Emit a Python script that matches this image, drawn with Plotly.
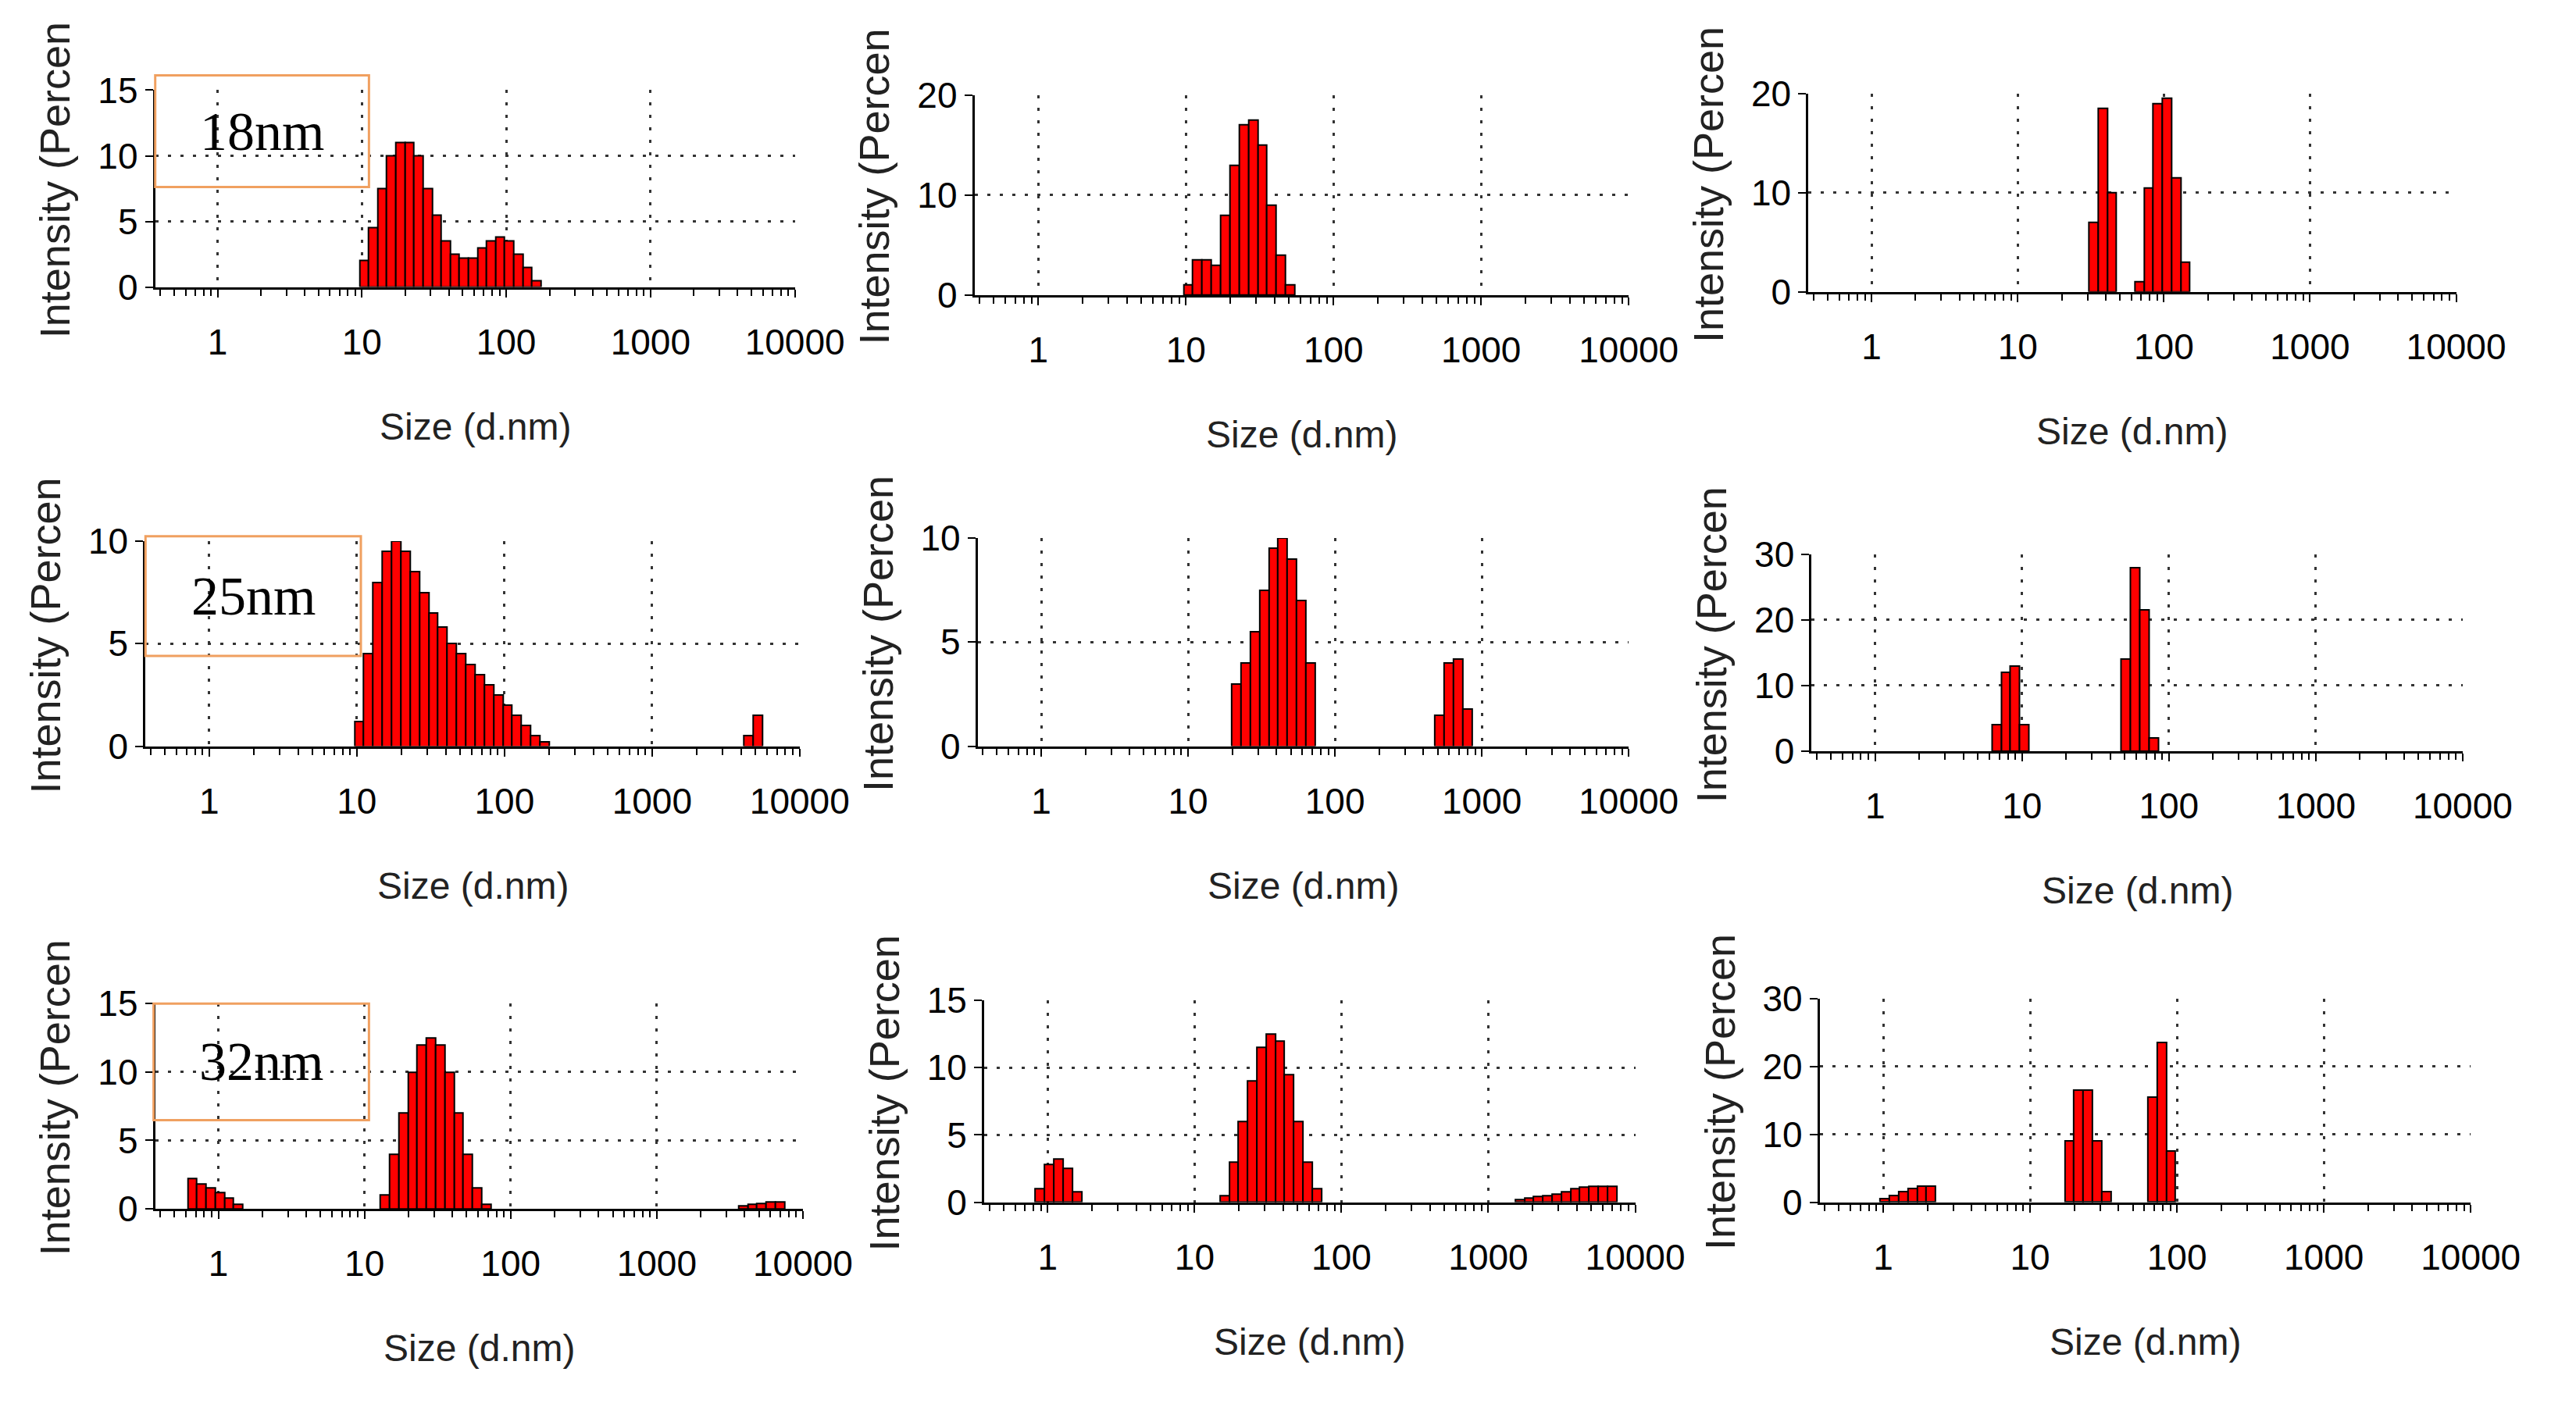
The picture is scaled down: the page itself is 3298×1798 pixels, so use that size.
import numpy as np
import plotly.graph_objects as go

# Zetasizer-style log bins: 70 bins from 0.4 to 10000 nm
BIN_START = 0.4
BIN_STEP = np.log10(10000 / 0.4) / 70

# (start bin index, intensity values) for each peak in each panel
panel1 = [(22, [2, 4.5, 7.5, 10, 11, 11, 10, 7.5, 5.5, 3.5, 2.5, 2.2, 2.2, 3, 3.5, 3.8, 3.5, 2.5, 1.5, 0.5])]
panel2 = [(22, [1, 3.5, 3.5, 3, 8, 13, 17, 17.5, 15, 9, 4, 1])]
panel3 = [(30, [7, 18.5, 10]), (35, [1, 10.5, 19, 19.5, 11.5, 3])]
panel4 = [(22, [1.2, 4.5, 8, 9.5, 10, 9.5, 8.5, 7.5, 6.5, 5.8, 5, 4.5, 4, 3.5, 3, 2.5, 2, 1.5, 1, 0.5, 0.2]),
          (64, [0.5, 1.5])]
panel5 = [(27, [3, 4, 5.5, 7.5, 9.5, 10, 9, 7, 4]), (49, [1.5, 4, 4.2, 1.8])]
panel6 = [(19, [4, 12, 13, 4]), (33, [14, 28, 21.5, 2])]
panel7 = [(3, [2.2, 1.8, 1.5, 1.2, 0.8, 0.3]),
          (24, [1, 4, 7, 10, 12, 12.5, 12, 10, 7, 4, 1.5, 0.3]),
          (63, [0.2, 0.3, 0.4, 0.5, 0.5])]
panel8 = [(5, [1, 2.8, 3.2, 2.5, 0.8]),
          (25, [0.5, 3, 6, 9, 11.5, 12.5, 12, 9.5, 6, 3, 1]),
          (57, [0.2, 0.3, 0.4, 0.5, 0.6, 0.8, 1, 1.1, 1.2, 1.2, 1.2])]
panel9 = [(6, [0.5, 1, 1.5, 2, 2.3, 2.3]), (26, [9, 16.5, 16.5, 9, 1.5]), (35, [15.5, 23.5, 7.5])]

panels = [panel1, panel2, panel3, panel4, panel5, panel6, panel7, panel8, panel9]
y_max = [15, 20, 20, 10, 10, 30, 15, 15, 30]
y_dtick = [5, 10, 10, 5, 5, 10, 5, 5, 10]
labels = {0: "18nm", 3: "25nm", 6: "32nm"}
x_ticks = [1, 10, 100, 1000, 10000]

# plot-area positions in a 1560-wide reference frame: (x0, x1, ytop, ybottom)
boxes = [(92, 487, 55, 175), (598, 1002, 58, 180), (1113, 1513, 57, 178),
         (86, 490, 330, 455), (600, 1002, 328, 455), (1115, 1517, 338, 458),
         (92, 492, 612, 737), (604, 1006, 610, 733), (1120, 1522, 609, 733)]
label_boxes = {0: (92, 224, 46, 114), 3: (86, 219, 327, 400), 6: (91, 224, 612, 683)}
W = 1560.0
Y0, YS = 16.2, 0.978 * 850.0


def py(v):
    return 1 - (v - Y0) / YS


minor = []
for d in range(-1, 4):
    for m in range(2, 10):
        v = m * 10 ** d
        if 0.37 < v < 10000:
            minor.append(np.log10(v))

fig = go.Figure()
layout = {}
FONT = "Liberation Sans Narrow, Liberation Sans, Arial"
for i, (pan, box) in enumerate(zip(panels, boxes)):
    n = i + 1
    xs, ys = [], []
    for start, vals in pan:
        for k, v in enumerate(vals):
            xs.append(np.log10(BIN_START) + (start + k + 0.5) * BIN_STEP)
            ys.append(v)
    xa = "x" if n == 1 else f"x{n}"
    ya = "y" if n == 1 else f"y{n}"
    fig.add_trace(go.Bar(x=xs, y=ys, width=BIN_STEP, xaxis=xa, yaxis=ya,
                         marker=dict(color="#ff0000", line=dict(color="black", width=2)),
                         showlegend=False))
    x0, x1, yt, yb = box
    layout[f"xaxis{'' if n == 1 else n}"] = dict(
        domain=[x0 / W, x1 / W], anchor=ya, range=[np.log10(0.37), 4.0],
        tickvals=[np.log10(t) for t in x_ticks], ticktext=[str(t) for t in x_ticks],
        showline=True, linecolor="black", linewidth=3, ticks="outside", ticklen=10,
        tickwidth=2, tickcolor="black", ticklabelstandoff=18,
        minor=dict(tickvals=minor, ticks="outside", ticklen=8, tickwidth=2, tickcolor="black"),
        showgrid=True, gridcolor="#333", griddash="4px,12px", gridwidth=3,
        tickfont=dict(family=FONT, size=46, color="black"), zeroline=False)
    layout[f"yaxis{'' if n == 1 else n}"] = dict(
        domain=[py(yb), py(yt)], anchor=xa, range=[0, y_max[i]],
        dtick=y_dtick[i], showline=True, linecolor="black", linewidth=3,
        ticks="outside", ticklen=10, tickwidth=2, tickcolor="black",
        showgrid=True, gridcolor="#333", griddash="4px,12px", gridwidth=3,
        tickfont=dict(family=FONT, size=46, color="black"), zeroline=False)
    cx = (x0 + x1) / 2 / W
    fig.add_annotation(text="Size (d.nm)", xref="paper", yref="paper", x=cx,
                       y=py(yb + 85), xanchor="center", yanchor="middle", showarrow=False,
                       font=dict(family=FONT, size=48, color="#222"))
    fig.add_annotation(text="Intensity (Percen", xref="paper", yref="paper",
                       x=(x0 - 62) / W, y=py((yt + yb - 10) / 2), textangle=-90,
                       xanchor="center", yanchor="middle",
                       showarrow=False, font=dict(family=FONT, size=54, color="#222"))
    if i in labels:
        bx0, bx1, by0, by1 = label_boxes[i]
        fig.add_shape(type="rect", xref="paper", yref="paper", x0=bx0 / W, x1=bx1 / W,
                      y0=py(by1), y1=py(by0), line=dict(color="#f0a060", width=3))
        fig.add_annotation(text=labels[i], xref="paper", yref="paper",
                           x=(bx0 + bx1) / 2 / W, y=py((by0 + by1) / 2), showarrow=False,
                           xanchor="center", yanchor="middle",
                           font=dict(family="Liberation Serif, Times New Roman", size=70, color="black"))

fig.update_layout(width=3298, height=1798, margin=dict(l=0, r=0, t=0, b=0),
                  paper_bgcolor="white", plot_bgcolor="white", bargap=0, **layout)
fig.write_html("out.html")
